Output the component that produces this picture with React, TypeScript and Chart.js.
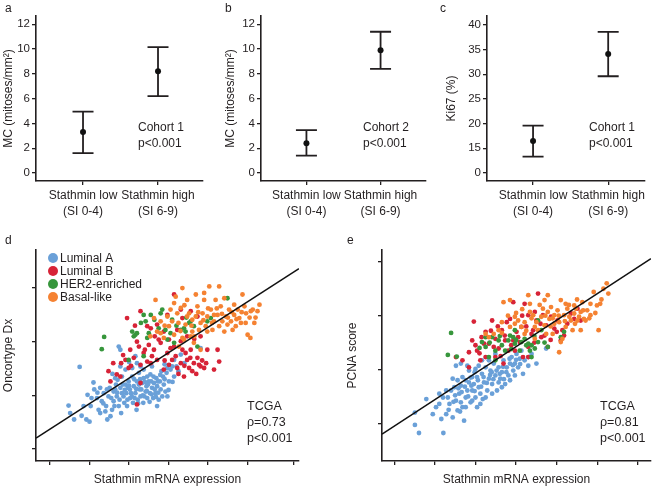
import React, { useEffect, useRef } from 'react';
import { Chart, registerables } from 'chart.js';

Chart.register(...registerables);

const FONT = '"Liberation Sans", Arial, Helvetica, sans-serif';
const INK = '#231f20';

// ---------- panels a-c ----------
const groupLabels = [['Stathmin low', '(SI 0-4)'], ['Stathmin high', '(SI 6-9)']];
const mcTicks = [0, 2, 4, 6, 8, 10, 12];
const ki67Ticks = [0, 15, 20, 25, 30, 35, 40];

const mcCohort1Mean = [3.3, 8.2];
const mcCohort1Lo = [1.6, 6.2];
const mcCohort1Hi = [4.95, 10.15];

const mcCohort2Mean = [2.4, 9.9];
const mcCohort2Lo = [1.4, 8.4];
const mcCohort2Hi = [3.45, 11.4];

const ki67Mean = [16.5, 34.1];
const ki67Lo = [13.3, 29.6];
const ki67Hi = [19.6, 38.6];

// ---------- panels d-e ----------
const subtypeNames = ['Luminal A', 'Luminal B', 'HER2-enriched', 'Basal-like'];
const subtypeColors = ['#6aa0d8', '#d72337', '#37963c', '#f58232'];

type Pt = [number, number];

const dLuminalA: Pt[] = [[1.47,0.81],[1.51,0.67],[1.61,0.55],[1.75,1.53],[1.92,0.55],[2.00,0.51],[1.95,1.01],[2.10,1.24],[2.12,1.11],[2.19,0.95],[2.23,0.73],[2.27,0.67],[2.31,0.89],[2.36,1.04],[2.42,0.80],[2.48,0.98],[2.51,1.14],[2.53,0.61],[2.57,0.73],[2.61,0.89],[2.65,1.11],[2.69,0.98],[2.71,1.29],[2.74,0.80],[2.78,1.14],[2.80,0.67],[2.82,1.35],[2.86,0.98],[2.88,0.86],[2.91,1.20],[2.93,1.04],[2.95,0.80],[2.99,1.26],[3.02,1.11],[3.03,0.95],[3.08,1.35],[3.10,0.86],[3.12,1.17],[3.16,1.04],[3.19,0.73],[3.20,1.26],[3.22,0.92],[3.25,1.42],[3.27,1.11],[3.29,0.98],[3.33,1.23],[3.36,0.86],[3.37,1.32],[3.42,1.07],[3.44,1.17],[3.46,0.95],[3.50,1.26],[3.53,1.04],[3.54,1.39],[3.58,1.14],[3.61,0.95],[3.63,1.23],[3.67,1.04],[3.69,1.32],[3.71,1.17],[3.75,0.92],[3.78,1.26],[3.80,1.11],[3.84,0.98],[3.86,1.35],[3.88,1.20],[3.92,1.07],[3.95,1.42],[3.97,0.98],[4.01,1.26],[4.05,1.48],[4.09,1.54],[4.14,1.66],[4.20,1.54],[4.31,1.76],[4.81,1.88],[2.74,1.91],[2.78,1.85],[3.16,1.73],[3.20,1.60],[3.29,1.54],[2.61,1.07],[2.67,1.20],[2.82,1.04],[2.97,1.14],[3.05,1.04],[3.14,0.95],[3.25,1.20],[3.31,1.11],[3.39,0.98],[3.48,1.20],[3.56,1.26],[3.65,1.11],[3.73,1.26],[3.82,1.45],[3.08,1.51],[2.91,1.48],[2.44,1.11],[2.27,1.14],[2.03,0.80],[1.85,0.80],[2.40,0.70],[2.65,1.32],[3.37,1.48],[3.58,1.54],[3.97,1.51],[4.14,1.35],[3.71,0.80],[3.46,1.35],[2.78,1.54],[2.55,0.95],[2.63,0.80],[2.70,1.05],[2.76,0.92],[2.84,1.20],[2.89,1.10],[2.96,0.92],[3.00,1.18],[3.07,0.98],[3.13,1.30],[3.18,1.12],[3.23,0.85],[3.28,1.30],[3.35,1.00],[3.40,1.25],[3.45,1.08],[3.52,0.88],[3.57,1.02],[3.62,1.35],[3.68,0.97],[3.74,1.05],[3.79,1.38],[3.90,1.30],[4.00,1.10],[4.10,1.25],[2.35,0.85],[2.20,1.05],[2.05,0.95],[1.80,0.62],[2.45,0.55],[4.25,1.45],[4.40,1.60],[3.90,1.58],[3.00,1.62],[2.58,1.40]];
const dLuminalB: Pt[] = [[2.95,2.44],[2.80,1.60],[2.91,1.66],[2.78,1.35],[3.03,1.85],[3.12,1.70],[3.20,0.83],[3.25,1.91],[3.29,1.57],[3.37,1.79],[3.46,1.63],[3.50,1.94],[3.63,1.85],[3.71,1.66],[3.80,1.98],[3.88,1.48],[3.97,1.79],[4.01,1.57],[4.14,1.91],[4.18,1.73],[4.22,1.51],[4.31,1.60],[4.35,1.85],[4.39,1.35],[4.47,1.66],[4.52,1.51],[4.56,1.85],[4.60,1.45],[4.64,1.60],[4.73,1.70],[4.81,1.54],[4.90,1.51],[5.15,1.48],[5.28,1.63],[5.24,1.85],[4.73,2.47],[4.56,2.57],[4.31,2.60],[4.35,2.44],[3.97,2.50],[3.71,2.32],[3.88,2.19],[3.29,2.57],[3.46,2.29],[4.81,2.10],[4.47,2.10],[4.22,2.22],[3.29,1.23],[2.69,1.39],[2.53,1.26],[2.48,1.45],[2.99,1.51],[3.58,1.73],[4.09,1.66],[4.43,1.79],[4.77,1.57],[4.98,1.85],[3.75,2.04],[4.14,2.88],[4.01,2.04],[4.31,2.01],[2.85,1.75],[3.05,1.55],[3.20,2.00],[3.40,1.85],[3.55,1.60],[3.65,2.10],[3.90,1.65],[4.05,1.88],[4.25,1.40],[4.40,1.55],[4.55,1.70],[4.70,1.40],[4.85,1.65],[3.15,2.30],[2.60,1.60],[4.95,1.60],[4.65,2.05],[3.55,2.25]];
const dHer2: Pt[] = [[2.37,2.09],[2.31,1.86],[2.99,1.66],[3.08,2.19],[3.12,2.10],[3.16,2.13],[3.37,2.50],[3.42,2.38],[3.50,2.16],[3.64,2.41],[3.80,2.53],[3.84,2.60],[3.92,2.22],[3.97,2.04],[4.05,2.16],[4.09,2.41],[4.14,1.98],[4.31,2.22],[4.39,2.25],[4.43,2.19],[4.56,2.38],[4.64,2.29],[4.73,1.91],[4.98,2.38],[5.07,2.44],[5.49,2.81],[3.37,1.73],[3.46,2.07],[4.52,2.35],[3.20,2.16],[3.30,2.35],[3.75,2.25],[4.20,2.30],[3.55,2.50],[4.45,2.45]];
const dBasal: Pt[] = [[3.67,2.78],[3.80,2.16],[3.88,2.07],[3.97,2.47],[4.01,2.29],[4.09,2.38],[4.14,2.72],[4.18,2.84],[4.22,2.53],[4.31,2.63],[4.35,3.00],[4.39,2.04],[4.43,2.32],[4.47,2.78],[4.52,2.53],[4.56,2.10],[4.60,2.41],[4.64,1.98],[4.69,2.47],[4.73,2.66],[4.77,2.22],[4.86,2.53],[4.90,2.78],[4.94,2.29],[4.98,2.47],[5.03,3.03],[5.07,2.60],[5.11,2.22],[5.15,2.38],[5.19,2.78],[5.24,2.50],[5.28,2.29],[5.32,2.66],[5.36,2.38],[5.41,2.19],[5.45,2.47],[5.49,2.32],[5.53,2.60],[5.58,2.38],[5.62,2.22],[5.66,2.50],[5.70,2.29],[5.75,2.60],[5.79,2.44],[5.87,2.88],[5.92,2.66],[5.96,2.53],[6.00,2.13],[6.07,2.07],[6.08,2.57],[6.13,2.60],[6.25,2.57],[6.30,2.69],[6.17,2.35],[5.28,3.03],[4.90,2.91],[4.69,2.88],[4.81,2.35],[4.14,2.13],[4.26,1.91],[4.60,2.19],[5.15,2.50],[5.41,2.81],[3.63,2.44],[3.71,2.19],[3.54,2.10],[3.80,2.38],[4.35,2.07],[4.47,2.47],[4.98,2.19],[5.66,2.69],[5.83,2.35],[4.81,1.85],[4.05,2.60],[4.25,2.35],[4.40,2.68],[4.58,2.30],[4.75,2.55],[4.88,2.40],[5.00,2.62],[5.10,2.35],[5.22,2.62],[5.35,2.52],[5.50,2.45],[5.60,2.55],[5.72,2.42],[5.85,2.55],[5.95,2.35],[6.05,2.45],[6.20,2.45],[4.30,2.20],[3.90,2.30],[4.65,2.10]];

const eLuminalA: Pt[] = [[1.51,0.20],[1.51,-0.03],[1.61,-0.18],[1.79,0.45],[1.95,0.17],[2.03,0.30],[2.11,0.55],[2.16,0.08],[2.21,-0.18],[2.28,0.17],[2.32,0.48],[2.36,0.36],[2.40,0.61],[2.44,0.11],[2.48,0.67],[2.52,0.42],[2.56,0.24],[2.60,0.55],[2.64,0.70],[2.68,0.30],[2.72,0.05],[2.76,0.48],[2.80,0.61],[2.84,0.76],[2.88,0.39],[2.92,0.61],[2.96,0.73],[3.00,0.48],[3.04,0.86],[3.08,0.67],[3.12,0.55],[3.16,0.92],[3.21,0.76],[3.25,1.04],[3.29,0.61],[3.33,0.83],[3.37,0.98],[3.41,0.73],[3.45,1.11],[3.49,0.89],[3.53,0.61],[3.57,1.04],[3.61,0.83],[3.65,0.95],[3.69,1.17],[3.73,0.73],[3.77,1.04],[3.81,0.89],[3.85,1.11],[3.89,1.23],[3.93,0.98],[3.97,1.11],[4.01,1.29],[4.05,1.04],[4.09,1.20],[4.13,1.35],[4.17,0.92],[4.21,1.17],[4.30,1.23],[4.38,1.29],[4.50,1.11],[4.74,1.39],[2.52,1.07],[2.64,1.11],[2.68,0.86],[2.84,0.98],[3.00,1.01],[3.16,1.17],[3.25,0.48],[3.33,1.17],[3.49,1.29],[2.28,0.61],[2.11,0.36],[2.56,0.80],[2.76,0.80],[2.92,0.86],[3.08,1.07],[3.41,0.55],[3.57,0.76],[2.92,0.42],[3.04,0.30],[2.44,0.83],[2.76,0.30],[3.65,0.67],[3.85,0.80],[3.97,0.89],[4.30,1.07],[2.80,1.07],[3.12,0.36],[2.64,0.39],[2.50,0.52],[2.58,0.65],[2.66,0.58],[2.74,0.68],[2.82,0.50],[2.90,0.70],[2.98,0.60],[3.06,0.80],[3.14,0.68],[3.20,0.86],[3.28,0.75],[3.36,0.90],[3.44,0.82],[3.52,0.98],[3.60,0.92],[3.68,1.05],[3.76,0.95],[3.84,1.20],[3.92,1.08],[4.00,1.18],[2.34,0.25],[2.20,0.48],[2.62,0.22],[3.18,0.45],[3.40,0.95],[2.98,0.95],[3.70,0.82],[4.10,1.10],[2.46,0.40],[2.88,0.85]];
const eLuminalB: Pt[] = [[2.96,1.89],[3.41,1.91],[3.25,1.70],[3.33,1.48],[3.49,1.57],[3.65,1.73],[3.77,1.88],[3.85,1.94],[3.93,1.54],[3.97,1.35],[4.09,1.51],[4.17,1.23],[4.30,1.42],[4.38,1.66],[4.50,1.91],[4.54,2.41],[4.46,2.07],[4.21,2.22],[4.42,1.73],[4.62,1.60],[4.74,1.82],[4.78,1.42],[4.94,1.76],[5.10,1.54],[5.14,1.73],[5.26,1.85],[5.35,2.04],[5.43,1.94],[5.51,2.13],[4.30,1.23],[2.52,1.23],[2.68,1.17],[2.84,1.32],[2.92,1.54],[3.04,1.35],[3.12,1.17],[3.25,1.23],[3.49,1.23],[3.57,1.39],[3.69,1.11],[3.81,1.35],[4.01,1.70],[4.13,1.79],[4.66,2.01],[5.02,1.91],[5.18,1.63],[5.59,1.91],[2.84,1.04],[3.21,1.48],[3.45,1.42],[3.73,1.54],[4.30,2.01],[3.93,2.25],[4.70,1.63],[4.86,1.98],[3.00,1.45],[3.15,1.60],[3.38,1.72],[3.55,1.80],[3.72,1.63],[3.88,1.45],[4.05,1.60],[4.25,1.80],[4.45,1.50],[4.60,1.85],[4.85,1.55],[5.00,1.70],[3.10,1.30],[3.62,1.25],[4.15,2.00]];
const eHer2: Pt[] = [[2.40,1.68],[2.32,1.27],[2.54,1.24],[3.16,1.51],[3.25,1.42],[3.33,1.23],[3.41,1.60],[3.49,1.35],[3.57,1.54],[3.65,1.45],[3.73,1.35],[3.81,1.54],[3.85,1.63],[3.93,1.60],[3.97,1.48],[4.09,1.35],[4.21,1.57],[4.30,1.48],[4.34,1.35],[4.38,1.45],[4.46,1.39],[4.54,1.51],[4.62,1.73],[4.78,1.42],[5.10,1.60],[5.18,1.70],[4.54,1.91],[3.97,1.73],[3.49,1.17],[3.25,1.60],[4.38,1.23],[4.13,1.51],[3.35,1.50],[3.60,1.62],[3.88,1.38],[4.00,1.55],[4.25,1.45],[4.45,1.62],[4.70,1.50],[3.10,1.40]];
const eBasal: Pt[] = [[3.25,1.66],[3.65,1.88],[3.69,2.25],[3.85,2.29],[3.97,1.85],[4.05,1.91],[4.13,1.79],[4.21,1.88],[4.30,2.38],[4.34,2.22],[4.42,2.01],[4.46,1.79],[4.50,1.88],[4.54,1.73],[4.62,1.98],[4.66,2.13],[4.70,1.82],[4.74,1.66],[4.78,2.07],[4.82,1.94],[4.86,2.16],[4.90,1.66],[4.94,2.01],[5.02,2.10],[5.06,1.88],[5.10,2.29],[5.14,1.57],[5.18,2.01],[5.22,1.79],[5.26,2.13],[5.31,1.98],[5.35,1.91],[5.39,1.73],[5.43,2.04],[5.47,2.13],[5.51,1.91],[5.55,1.98],[5.59,2.07],[5.63,2.25],[5.67,1.94],[5.71,1.91],[5.75,2.10],[5.83,2.22],[5.91,2.44],[5.99,2.19],[6.07,2.22],[6.15,2.50],[6.23,2.60],[6.27,2.41],[6.03,1.73],[5.06,1.32],[5.10,1.51],[3.65,1.68],[3.97,1.98],[4.34,2.07],[4.70,2.29],[4.94,1.85],[4.46,1.57],[4.21,1.66],[3.85,1.79],[5.59,1.73],[5.43,2.19],[5.83,2.01],[5.22,2.22],[4.78,2.38],[3.57,1.73],[3.45,1.66],[3.33,1.60],[4.00,2.05],[4.15,2.12],[4.38,1.95],[4.58,2.20],[4.72,2.00],[4.90,1.95],[5.05,2.00],[5.20,1.90],[5.30,2.20],[5.45,1.85],[5.65,2.10],[5.80,1.95],[5.95,2.05],[6.10,2.30],[4.25,1.72],[4.85,1.80],[5.50,2.30],[3.80,2.00]];

const dXTicks = [1, 2, 3, 4, 5, 6, 7.17];
const dYTicks = [0, 1, 2, 3];
const eXTicks = [1, 2, 3, 4, 5, 6, 7];
const eYTicks = [0, 1, 2, 3];
const dFit = { intercept: -0.104, slope: 0.475 };
const eFit = { intercept: -0.545, slope: 0.4925 };

// ---------- helpers ----------
const fixedTicks = (vals: number[]) => (s: any) => {
  s.ticks = vals.map((v) => ({ value: v }));
};

function notesPlugin(lines: string[], dx: number, dy: number, step: number, size: number) {
  return {
    id: 'notes',
    afterDraw(chart: any) {
      const { ctx, chartArea } = chart;
      ctx.save();
      ctx.fillStyle = INK;
      ctx.textAlign = 'left';
      ctx.textBaseline = 'middle';
      ctx.font = `${size}px ${FONT}`;
      lines.forEach((t, i) => ctx.fillText(t, chartArea.left + dx, chartArea.top + dy + i * step));
      ctx.restore();
    },
  };
}

const legendPlugin = {
  id: 'subtypeLegend',
  afterDraw(chart: any) {
    const { ctx, chartArea } = chart;
    ctx.save();
    ctx.font = `12px ${FONT}`;
    ctx.textBaseline = 'middle';
    ctx.textAlign = 'left';
    subtypeNames.forEach((name, i) => {
      const y = chartArea.top + 8 + i * 13;
      ctx.fillStyle = subtypeColors[i];
      ctx.beginPath();
      ctx.arc(chartArea.left + 17, y, 5, 0, Math.PI * 2);
      ctx.fill();
      ctx.fillStyle = INK;
      ctx.fillText(name, chartArea.left + 24, y + 0.5);
    });
    ctx.restore();
  },
};

const axisBase = {
  grid: { drawOnChartArea: false, drawTicks: true, tickLength: 4, color: INK, lineWidth: 1.3 },
  border: { display: true, color: INK, width: 1.6 },
};

interface ErrPanel {
  mean: number[]; lo: number[]; hi: number[];
  ticks: number[]; map: (v: number) => number;
  xMin: number; xMax: number; yMin: number; yMax: number;
  yTitle: string; axisW: number; titlePad: number; padRight: number; notes: string[];
}

function errorConfig(p: ErrPanel): any {
  const errPlugin = {
    id: 'errbars',
    beforeDatasetsDraw(chart: any) {
      const { ctx } = chart;
      const xs = chart.scales.x;
      const ys = chart.scales.y;
      ctx.save();
      ctx.strokeStyle = INK;
      ctx.lineWidth = 1.8;
      p.mean.forEach((_, i) => {
        const x = xs.getPixelForValue(i + 1);
        const yl = ys.getPixelForValue(p.map(p.lo[i]));
        const yh = ys.getPixelForValue(p.map(p.hi[i]));
        ctx.beginPath();
        ctx.moveTo(x, yl); ctx.lineTo(x, yh);
        ctx.moveTo(x - 10.5, yl); ctx.lineTo(x + 10.5, yl);
        ctx.moveTo(x - 10.5, yh); ctx.lineTo(x + 10.5, yh);
        ctx.stroke();
      });
      ctx.restore();
    },
  };
  return {
    type: 'scatter',
    data: {
      datasets: [{
        data: p.mean.map((m, i) => ({ x: i + 1, y: p.map(m) })),
        backgroundColor: '#111', borderWidth: 0, pointRadius: 3,
      }],
    },
    options: {
      animation: false, responsive: false, devicePixelRatio: 1,
      layout: { padding: { top: 16, right: p.padRight, left: 0, bottom: 0 } },
      plugins: { legend: { display: false }, tooltip: { enabled: false } },
      scales: {
        x: {
          type: 'linear', min: p.xMin, max: p.xMax,
          afterBuildTicks: fixedTicks([1, 2]),
          afterFit: (s: any) => { s.height = 54; },
          ticks: {
            autoSkip: false, maxRotation: 0, padding: 3, color: INK,
            font: { family: FONT, size: 12, lineHeight: 1.3 },
            callback: (v: any) => groupLabels[Math.round(v) - 1] ?? '',
          },
          ...axisBase,
        },
        y: {
          type: 'linear', min: p.yMin, max: p.yMax,
          afterBuildTicks: (s: any) => { s.ticks = p.ticks.map((v) => ({ value: p.map(v) })); },
          afterFit: (s: any) => { s.width = p.axisW; },
          ticks: {
            padding: 2, color: INK, font: { family: FONT, size: 11.5 },
            callback: (v: any) => {
              const idx = p.ticks.findIndex((t) => Math.abs(p.map(t) - v) < 1e-6);
              return idx >= 0 ? String(p.ticks[idx]) : '';
            },
          },
          title: { display: true, text: p.yTitle, color: INK, font: { family: FONT, size: 12 }, padding: { top: p.titlePad, bottom: 0 } },
          ...axisBase,
        },
      },
    },
    plugins: [errPlugin, notesPlugin(p.notes, 102, 112, 16, 12)],
  };
}

interface ScatterPanel {
  groups: Pt[][]; fit: { intercept: number; slope: number };
  xMin: number; xMax: number; yMin: number; yMax: number;
  xTicks: number[]; yTicks: number[]; yTitle: string;
  axisW: number; titlePad: number; padRight: number; notes: string[]; notesDx: number; legend: boolean;
}

function scatterConfig(p: ScatterPanel): any {
  const datasets: any[] = p.groups.map((g, i) => ({
    label: subtypeNames[i],
    data: g.map(([x, y]) => ({ x, y })),
    backgroundColor: subtypeColors[i],
    borderWidth: 0, pointRadius: 2.4, order: 4 - i,
  }));
  const fx = [p.xMin, p.xMax];
  datasets.push({
    type: 'line',
    data: fx.map((x) => ({ x, y: p.fit.intercept + p.fit.slope * x })),
    borderColor: '#111', borderWidth: 1.6, pointRadius: 0, fill: false, order: 0,
  });
  const plugins: any[] = [notesPlugin(p.notes, p.notesDx, 157, 16, 12.5)];
  if (p.legend) plugins.push(legendPlugin);
  return {
    type: 'scatter',
    data: { datasets },
    options: {
      animation: false, responsive: false, devicePixelRatio: 1,
      layout: { padding: { top: 10, right: p.padRight, left: 0, bottom: 0 } },
      plugins: { legend: { display: false }, tooltip: { enabled: false } },
      scales: {
        x: {
          type: 'linear', min: p.xMin, max: p.xMax,
          afterBuildTicks: fixedTicks(p.xTicks),
          afterFit: (s: any) => { s.height = 27; },
          ticks: { display: false },
          title: { display: true, text: 'Stathmin mRNA expression', color: INK, font: { family: FONT, size: 12 }, padding: { top: 0, bottom: 1 } },
          ...axisBase,
        },
        y: {
          type: 'linear', min: p.yMin, max: p.yMax,
          afterBuildTicks: fixedTicks(p.yTicks),
          afterFit: (s: any) => { s.width = p.axisW; },
          ticks: { display: false },
          title: { display: true, text: p.yTitle, color: INK, font: { family: FONT, size: 12 }, padding: { top: p.titlePad, bottom: 0 } },
          ...axisBase,
        },
      },
    },
    plugins,
  };
}

function ChartBox(props: { left: number; top: number; width: number; height: number; make: () => any }) {
  const ref = useRef<HTMLCanvasElement>(null);
  useEffect(() => {
    const chart = new Chart(ref.current as HTMLCanvasElement, props.make());
    return () => chart.destroy();
  }, []);
  const { left, top, width, height } = props;
  return (
    <div style={{ position: 'absolute', left, top, width, height }}>
      <canvas ref={ref} width={width} height={height} style={{ width, height, display: 'block' }} />
    </div>
  );
}

const breakMap = (v: number) => (v === 0 ? 0 : v - 10);
const ident = (v: number) => v;

function Letter(props: { x: number; y: number; t: string }) {
  return (
    <div style={{ position: 'absolute', left: props.x, top: props.y, font: `12px ${FONT}`, color: INK, lineHeight: '14px' }}>
      {props.t}
    </div>
  );
}

export default function App() {
  return (
    <div style={{ position: 'absolute', left: 0, top: 0, width: 655, height: 488, overflow: 'hidden', background: '#fff' }}>
      <ChartBox left={0} top={0} width={215} height={235} make={() => errorConfig({
        mean: mcCohort1Mean, lo: mcCohort1Lo, hi: mcCohort1Hi, ticks: mcTicks, map: ident,
        xMin: 0.373, xMax: 2.6, yMin: -0.65, yMax: 12.67, yTitle: 'MC (mitoses/mm²)',
        axisW: 36, titlePad: 1, padRight: 12, notes: ['Cohort 1', 'p<0.001'],
      })} />
      <ChartBox left={215} top={0} width={215} height={235} make={() => errorConfig({
        mean: mcCohort2Mean, lo: mcCohort2Lo, hi: mcCohort2Hi, ticks: mcTicks, map: ident,
        xMin: 0.387, xMax: 2.613, yMin: -0.65, yMax: 12.67, yTitle: 'MC (mitoses/mm²)',
        axisW: 46, titlePad: 8, padRight: 2, notes: ['Cohort 2', 'p<0.001'],
      })} />
      <ChartBox left={430} top={0} width={225} height={235} make={() => errorConfig({
        mean: ki67Mean, lo: ki67Lo, hi: ki67Hi, ticks: ki67Ticks, map: breakMap,
        xMin: 0.387, xMax: 2.49, yMin: -1.62, yMax: 31.8, yTitle: 'Ki67 (%)',
        axisW: 57, titlePad: 14.5, padRight: 10, notes: ['Cohort 1', 'p<0.001'],
      })} />
      <ChartBox left={0} top={240} width={310} height={248} make={() => scatterConfig({
        groups: [dLuminalA, dLuminalB, dHer2, dBasal], fit: dFit,
        xMin: 0.646, xMax: 7.3, yMin: -0.224, yMax: 3.71, xTicks: dXTicks, yTicks: dYTicks,
        yTitle: 'Oncortype Dx', axisW: 36, titlePad: 1, padRight: 11,
        notes: ['TCGA', 'ρ=0.73', 'p<0.001'], notesDx: 211, legend: true,
      })} />
      <ChartBox left={340} top={240} width={315} height={248} make={() => scatterConfig({
        groups: [eLuminalA, eLuminalB, eHer2, eBasal], fit: eFit,
        xMin: 0.70, xMax: 7.32, yMin: -0.70, yMax: 3.22, xTicks: eXTicks, yTicks: eYTicks,
        yTitle: 'PCNA score', axisW: 42, titlePad: 5, padRight: 0,
        notes: ['TCGA', 'ρ=0.81', 'p<0.001'], notesDx: 218, legend: false,
      })} />
      <Letter x={5} y={1} t="a" />
      <Letter x={225} y={1} t="b" />
      <Letter x={440} y={1} t="c" />
      <Letter x={5} y={233} t="d" />
      <Letter x={347} y={233} t="e" />
    </div>
  );
}
